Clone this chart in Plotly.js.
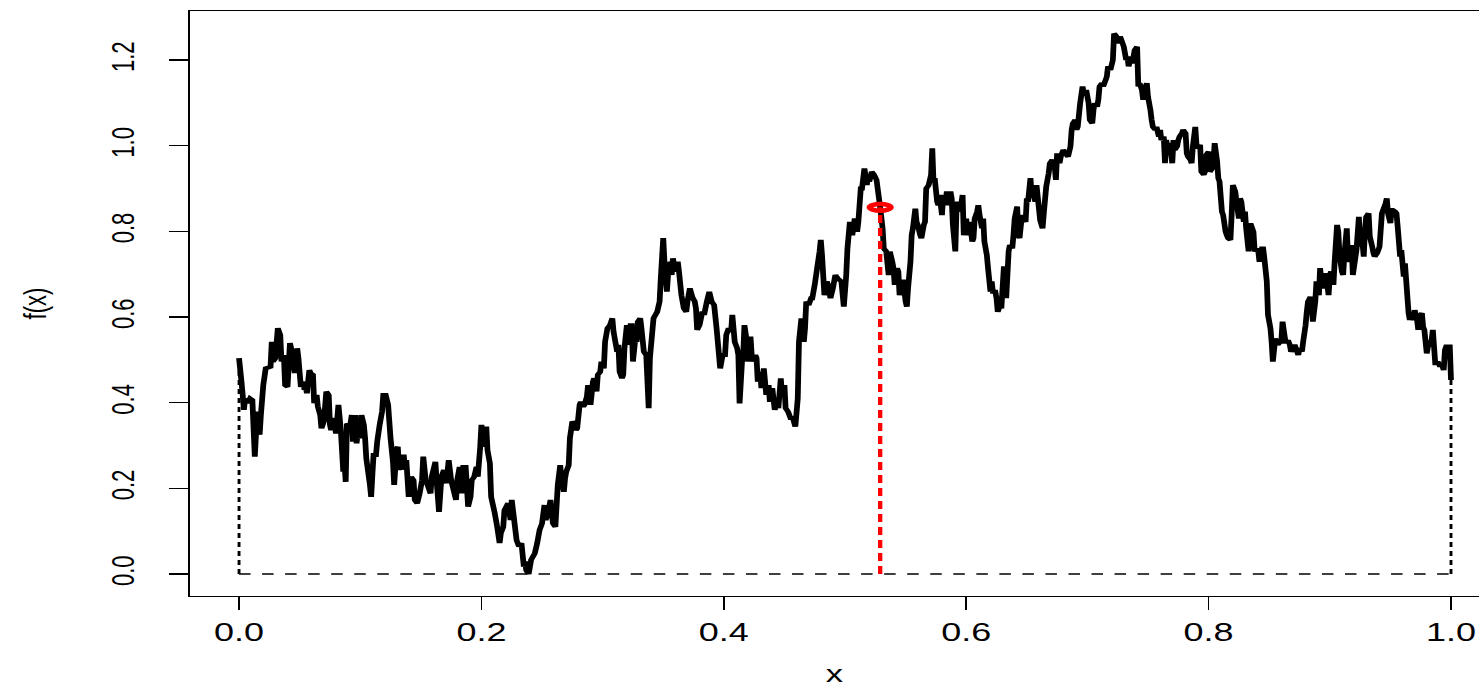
<!DOCTYPE html>
<html>
<head>
<meta charset="utf-8">
<script src="https://cdn.plot.ly/plotly-3.0.1.min.js"></script>
<style>
  html, body { margin: 0; padding: 0; background: #fff; width: 1479px; height: 687px; overflow: hidden; }
  /* drawn on a narrower canvas and widened, like the original device */
  #plot { width: 1027px; height: 687px; transform: scaleX(1.44); transform-origin: 0 0; }
</style>
</head>
<body>
<div id="plot"></div>
<script>
// sample path f(x) on [0, 1]
const xs = [
  0.000,0.002,0.003,0.004,0.005,0.007,0.009,0.011,0.013,0.015,
  0.017,0.018,0.020,0.022,0.026,0.027,0.028,0.030,0.032,0.034,
  0.035,0.037,0.038,0.040,0.042,0.043,0.045,0.046,0.048,0.049,
  0.051,0.053,0.054,0.055,0.056,0.058,0.059,0.061,0.062,0.064,
  0.065,0.067,0.068,0.070,0.072,0.074,0.075,0.076,0.078,0.080,
  0.082,0.084,0.086,0.087,0.088,0.089,0.092,0.093,0.094,0.096,
  0.097,0.098,0.100,0.101,0.103,0.104,0.105,0.108,0.109,0.110,
  0.111,0.113,0.114,0.116,0.118,0.119,0.121,0.123,0.125,0.127,
  0.128,0.130,
  0.131,0.132,0.134,0.136,0.137,0.138,0.140,0.142,0.144,0.145,
  0.147,0.149,0.151,0.152,0.154,0.156,0.158,0.159,0.162,0.163,
  0.165,0.167,0.169,0.170,0.171,0.173,0.175,0.177,0.179,0.180,
  0.182,0.184,0.185,0.187,0.189,0.191,0.192,0.194,0.196,0.197,
  0.199,0.200,0.202,0.204,0.205,0.207,0.208,0.211,0.213,0.215,
  0.216,0.218,0.219,0.222,0.224,0.225,0.227,0.229,0.231,0.233,
  0.235,0.236,0.237,0.239,0.240,0.241,0.244,0.246,0.248,0.250,
  0.252,0.253,0.255,0.257,0.258,0.259,0.261,
  0.263,0.265,0.266,0.268,0.269,0.270,0.272,0.273,0.275,0.277,
  0.278,0.279,0.281,0.282,0.284,0.285,0.287,0.288,0.290,0.292,
  0.293,0.295,0.296,0.298,0.299,0.301,0.302,0.304,0.306,0.308,
  0.309,0.310,0.312,0.313,0.314,0.316,0.317,0.318,0.320,0.321,
  0.323,0.324,0.325,0.327,0.328,0.329,0.331,0.332,0.334,0.336,
  0.338,0.339,0.341,0.342,0.345,0.347,0.348,0.350,0.351,0.353,
  0.354,0.356,0.357,0.358,0.360,0.362,0.363,0.365,0.367,0.369,
  0.370,0.372,0.374,0.376,0.377,0.378,0.380,0.382,0.384,0.386,
  0.388,0.390,0.392,0.394,
  0.397,0.399,0.401,0.402,0.404,0.406,0.407,0.409,0.411,0.412,
  0.413,0.415,0.416,0.417,0.419,0.420,0.422,0.423,0.424,0.426,
  0.427,0.428,0.430,0.431,0.433,0.435,0.437,0.438,0.440,0.442,
  0.444,0.445,0.447,0.448,0.450,0.451,0.453,0.455,0.457,0.459,
  0.461,0.462,0.464,0.466,0.467,0.468,0.470,0.472,0.473,0.475,
  0.477,0.479,0.480,0.481,0.483,0.485,0.486,0.488,0.490,0.492,
  0.494,0.497,0.499,0.501,0.502,0.504,0.506,0.508,0.510,0.511,
  0.513,0.514,0.516,0.518,0.519,0.520,0.522,0.524,0.526,0.529,
  0.531,0.532,0.534,0.536,0.537,0.539,0.540,0.541,0.543,0.544,
  0.545,0.547,0.548,0.550,0.551,0.552,0.554,0.555,0.556,0.558,
  0.559,0.560,0.562,0.563,0.565,0.566,0.567,0.569,0.571,0.572,
  0.573,0.574,0.576,0.577,0.578,0.580,0.581,0.583,0.584,0.585,
  0.587,0.588,0.589,0.591,0.592,0.593,0.595,0.597,0.598,0.600,
  0.601,0.603,0.605,0.606,0.607,0.609,0.610,0.611,0.613,0.614,
  0.615,0.617,0.618,0.620,0.621,0.622,0.624,0.625,0.626,0.628,
  0.629,0.631,0.632,0.633,0.635,0.636,0.638,0.639,0.640,0.642,
  0.643,0.644,0.646,0.647,0.649,0.650,0.651,0.653,0.654,0.655,
  0.657,0.658,
  0.661,0.663,0.664,0.666,0.668,0.669,0.671,0.673,0.674,0.675,
  0.677,0.678,0.680,0.682,0.684,0.686,0.687,0.688,0.690,0.691,
  0.692,0.694,0.696,0.697,0.699,0.701,0.702,0.704,0.705,0.706,
  0.708,0.709,0.710,0.712,0.713,0.715,0.716,0.717,0.719,0.721,
  0.722,0.724,0.726,0.727,0.728,0.730,0.732,0.733,0.734,0.736,
  0.737,0.739,0.741,0.742,0.743,0.745,0.746,0.748,0.749,0.750,
  0.752,0.753,0.754,0.756,0.757,0.759,0.760,0.761,0.763,0.764,
  0.765,0.767,0.768,0.770,0.771,0.772,0.774,0.775,0.776,0.778,
  0.779,0.781,0.782,0.783,0.785,0.786,0.787,0.789,
  0.790,0.791,0.793,0.794,0.796,0.797,0.798,0.800,0.801,0.803,
  0.804,0.805,0.807,0.808,0.809,0.811,0.812,0.814,0.815,0.816,
  0.818,0.819,0.820,0.822,0.823,0.825,0.826,0.827,0.829,0.830,
  0.831,0.833,0.834,0.835,0.837,0.838,0.840,0.841,0.842,0.844,
  0.845,0.846,0.848,0.849,0.851,0.852,0.853,0.855,0.856,0.857,
  0.859,0.860,0.861,0.863,0.864,0.866,0.867,0.868,0.870,0.871,
  0.873,0.874,0.875,0.877,0.878,0.880,0.881,0.882,0.884,0.885,
  0.886,0.888,0.889,0.891,0.892,0.893,0.895,0.896,0.897,0.899,
  0.900,0.901,0.903,0.904,0.906,0.907,0.908,0.910,0.911,0.912,
  0.914,0.915,0.916,0.918,0.919,0.921,
  0.922,0.924,0.925,0.926,0.928,0.929,0.930,0.932,0.933,0.935,
  0.936,0.937,0.939,0.940,0.941,0.943,0.944,0.946,0.947,0.948,
  0.950,0.951,0.952,0.954,0.955,0.956,0.958,0.959,0.961,0.962,
  0.963,0.965,0.966,0.967,0.969,0.970,0.972,0.973,0.974,0.976,
  0.977,0.978,0.980,0.981,0.983,0.984,0.985,0.987,0.988,0.989,
  0.991,0.992,0.994,0.995,0.996,0.998,0.999,1.000
];
const fx = [
  0.504,0.449,0.418,0.383,0.410,0.399,0.410,0.406,0.274,0.379,
  0.325,0.371,0.441,0.480,0.484,0.542,0.496,0.504,0.574,0.558,
  0.496,0.511,0.441,0.437,0.539,0.527,0.488,0.469,0.527,0.504,
  0.437,0.449,0.430,0.437,0.422,0.476,0.469,0.465,0.399,0.418,
  0.391,0.371,0.340,0.356,0.426,0.418,0.348,0.336,0.364,0.328,
  0.395,0.336,0.239,0.262,0.215,0.348,0.352,0.371,0.309,0.371,
  0.305,0.332,0.317,0.371,0.348,0.317,0.270,0.208,0.180,0.231,
  0.278,0.278,0.309,0.348,0.379,0.418,0.418,0.395,0.317,0.262,
  0.208,0.293,
  0.297,0.243,0.274,0.274,0.243,0.266,0.180,0.227,0.219,0.173,
  0.165,0.188,0.219,0.274,0.219,0.204,0.188,0.227,0.262,0.219,
  0.145,0.227,0.243,0.219,0.212,0.266,0.219,0.196,0.173,0.219,
  0.250,0.188,0.250,0.250,0.157,0.180,0.219,0.227,0.250,0.227,
  0.297,0.348,0.297,0.344,0.289,0.258,0.180,0.142,0.110,0.072,
  0.095,0.110,0.149,0.165,0.126,0.173,0.126,0.079,0.064,0.072,
  0.017,0.029,0.008,0.000,0.017,0.033,0.048,0.072,0.103,0.118,
  0.161,0.126,0.142,0.173,0.142,0.118,0.110,
  0.208,0.254,0.223,0.192,0.223,0.239,0.254,0.317,0.356,0.348,
  0.336,0.340,0.395,0.402,0.391,0.395,0.414,0.441,0.395,0.449,
  0.457,0.426,0.465,0.472,0.496,0.480,0.542,0.574,0.581,0.597,
  0.566,0.550,0.519,0.535,0.472,0.457,0.465,0.527,0.581,0.535,
  0.581,0.581,0.496,0.550,0.542,0.589,0.597,0.574,0.519,0.511,
  0.387,0.504,0.566,0.597,0.612,0.636,0.690,0.784,0.729,0.659,
  0.698,0.729,0.698,0.737,0.706,0.729,0.706,0.651,0.620,0.612,
  0.636,0.667,0.647,0.636,0.620,0.570,0.581,0.609,0.609,0.636,
  0.659,0.636,0.628,0.574,
  0.480,0.511,0.511,0.558,0.574,0.566,0.605,0.542,0.527,0.511,
  0.398,0.496,0.511,0.581,0.542,0.496,0.554,0.511,0.496,0.511,
  0.504,0.449,0.472,0.434,0.480,0.418,0.441,0.402,0.434,0.383,
  0.402,0.387,0.457,0.418,0.441,0.387,0.379,0.364,0.364,0.344,
  0.410,0.542,0.597,0.542,0.574,0.636,0.628,0.644,0.644,0.675,
  0.714,0.753,0.780,0.745,0.651,0.683,0.675,0.644,0.667,0.698,
  0.690,0.683,0.624,0.698,0.760,0.822,0.791,0.830,0.799,0.822,
  0.900,0.900,0.947,0.908,0.932,0.916,0.939,0.932,0.920,0.856,
  0.807,0.760,0.753,0.698,0.753,0.729,0.714,0.675,0.714,0.706,
  0.651,0.683,0.683,0.636,0.624,0.667,0.729,0.791,0.807,0.853,
  0.822,0.815,0.791,0.784,0.815,0.822,0.900,0.908,0.932,0.994,
  0.916,0.924,0.869,0.861,0.885,0.838,0.885,0.869,0.893,0.861,
  0.893,0.877,0.815,0.753,0.853,0.869,0.846,0.885,0.791,0.830,
  0.791,0.822,0.776,0.784,0.830,0.846,0.861,0.838,0.807,0.830,
  0.776,0.745,0.714,0.659,0.683,0.659,0.659,0.644,0.612,0.628,
  0.620,0.714,0.714,0.644,0.753,0.768,0.760,0.791,0.830,0.858,
  0.791,0.784,0.838,0.830,0.822,0.877,0.869,0.924,0.885,0.893,
  0.869,0.908,
  0.826,0.807,0.842,0.904,0.935,0.959,0.967,0.951,0.920,0.982,
  0.959,0.974,0.990,0.982,0.974,0.998,1.037,1.052,1.060,1.037,
  1.044,1.099,1.138,1.122,1.130,1.099,1.060,1.052,1.083,1.099,
  1.091,1.107,1.138,1.146,1.138,1.153,1.161,1.185,1.177,1.200,
  1.262,1.255,1.239,1.255,1.247,1.231,1.200,1.208,1.185,1.208,
  1.192,1.223,1.231,1.138,1.146,1.130,1.107,1.138,1.146,1.114,
  1.083,1.060,1.044,1.037,1.044,1.021,1.037,1.013,1.021,0.959,
  1.013,0.982,1.006,0.959,1.013,0.990,0.998,1.013,1.021,1.029,
  1.037,1.029,0.982,0.974,0.967,0.959,0.998,1.044,
  1.002,0.994,1.002,0.939,0.932,0.939,0.978,0.986,0.939,0.947,
  0.963,1.006,0.963,0.924,0.916,0.846,0.838,0.799,0.791,0.784,
  0.780,0.838,0.908,0.893,0.869,0.830,0.877,0.869,0.822,0.846,
  0.807,0.753,0.815,0.815,0.799,0.753,0.760,0.753,0.729,0.760,
  0.760,0.737,0.683,0.605,0.574,0.542,0.496,0.550,0.542,0.535,
  0.542,0.542,0.589,0.550,0.542,0.542,0.535,0.519,0.527,0.535,
  0.519,0.511,0.527,0.519,0.542,0.581,0.612,0.636,0.647,0.636,
  0.589,0.636,0.683,0.651,0.714,0.683,0.667,0.698,0.698,0.651,
  0.698,0.706,0.675,0.729,0.815,0.799,0.745,0.706,0.698,0.745,
  0.807,0.737,0.729,0.768,0.698,0.737,
  0.756,0.834,0.764,0.803,0.741,0.803,0.834,0.842,0.788,0.764,
  0.749,0.741,0.749,0.756,0.764,0.842,0.850,0.865,0.877,0.842,
  0.819,0.850,0.850,0.846,0.842,0.811,0.741,0.756,0.694,0.725,
  0.686,0.609,0.593,0.609,0.593,0.616,0.593,0.570,0.601,0.609,
  0.577,0.570,0.515,0.531,0.539,0.546,0.570,0.492,0.492,0.496,
  0.484,0.492,0.476,0.523,0.531,0.531,0.531,0.453
];

// highlighted point on the path
const xMark = [0.529];
const fMark = [0.856];

const xTicks = [0, 0.2, 0.4, 0.6, 0.8, 1.0];
const yTicks = [0, 0.2, 0.4, 0.6, 0.8, 1.0, 1.2];

const n = Math.min(xs.length, fx.length);
const x0 = xs[0], x1 = xs[n - 1];

const traces = [
  { x: xs.slice(0, n), y: fx.slice(0, n), mode: 'lines',
    line: { color: '#000000', width: 4, simplify: false }, hoverinfo: 'skip' },
  { x: [x0, x1], y: [0, 0], mode: 'lines',
    line: { color: '#000000', width: 1.3, dash: '8px,8px' }, hoverinfo: 'skip' },
  { x: [x0, x0], y: [0, fx[0]], mode: 'lines',
    line: { color: '#000000', width: 2, dash: '5px,4px' }, hoverinfo: 'skip' },
  { x: [x1, x1], y: [0, fx[n - 1]], mode: 'lines',
    line: { color: '#000000', width: 2, dash: '5px,4px' }, hoverinfo: 'skip' },
  { x: [xMark[0], xMark[0]], y: [0, fMark[0]], mode: 'lines',
    line: { color: '#ff0000', width: 3, dash: '8px,5px' }, hoverinfo: 'skip' }
];

const font = 'Liberation Sans, Arial, Helvetica, sans-serif';

const layout = {
  width: 1027, height: 687,
  margin: { l: 132, r: 0, t: 11, b: 91, pad: 0 },
  paper_bgcolor: '#ffffff', plot_bgcolor: '#ffffff',
  showlegend: false,
  font: { family: font, color: '#000000' },
  xaxis: {
    range: [-0.0404, 1.0230], autorange: false,
    tickvals: xTicks, ticktext: xTicks.map(v => v.toFixed(1)),
    ticks: 'outside', ticklen: 13, tickwidth: 1.2, tickcolor: '#000000',
    ticklabelstandoff: 1,
    showline: true, linecolor: '#000000', linewidth: 1.3, mirror: true,
    showgrid: false, zeroline: false,
    tickfont: { family: font, size: 25, color: '#000000' },
    title: { text: 'x', font: { family: font, size: 24, color: '#000000' }, standoff: 30 }
  },
  yaxis: {
    range: [-0.0514, 1.3144], autorange: false,
    tickvals: yTicks, ticktext: yTicks.map(v => v.toFixed(1)),
    tickangle: -90,
    ticks: 'outside', ticklen: 13, tickwidth: 1.2, tickcolor: '#000000',
    ticklabelstandoff: 16,
    showline: true, linecolor: '#000000', linewidth: 1.3, mirror: false,
    showgrid: false, zeroline: false,
    tickfont: { family: font, size: 22, color: '#000000' },
    title: { text: 'f(x)', font: { family: font, size: 22, color: '#000000' }, standoff: 34 }
  },
  shapes: [{
    type: 'circle', xref: 'x', yref: 'y',
    xsizemode: 'pixel', ysizemode: 'pixel',
    xanchor: xMark[0], yanchor: fMark[0],
    x0: -7.2, x1: 7.2, y0: -3.3, y1: 3.3,
    line: { color: '#ff0000', width: 4.5 }, fillcolor: 'rgba(0,0,0,0)', layer: 'above'
  }]
};

Plotly.newPlot('plot', traces, layout, { displayModeBar: false, staticPlot: true });
</script>
</body>
</html>
